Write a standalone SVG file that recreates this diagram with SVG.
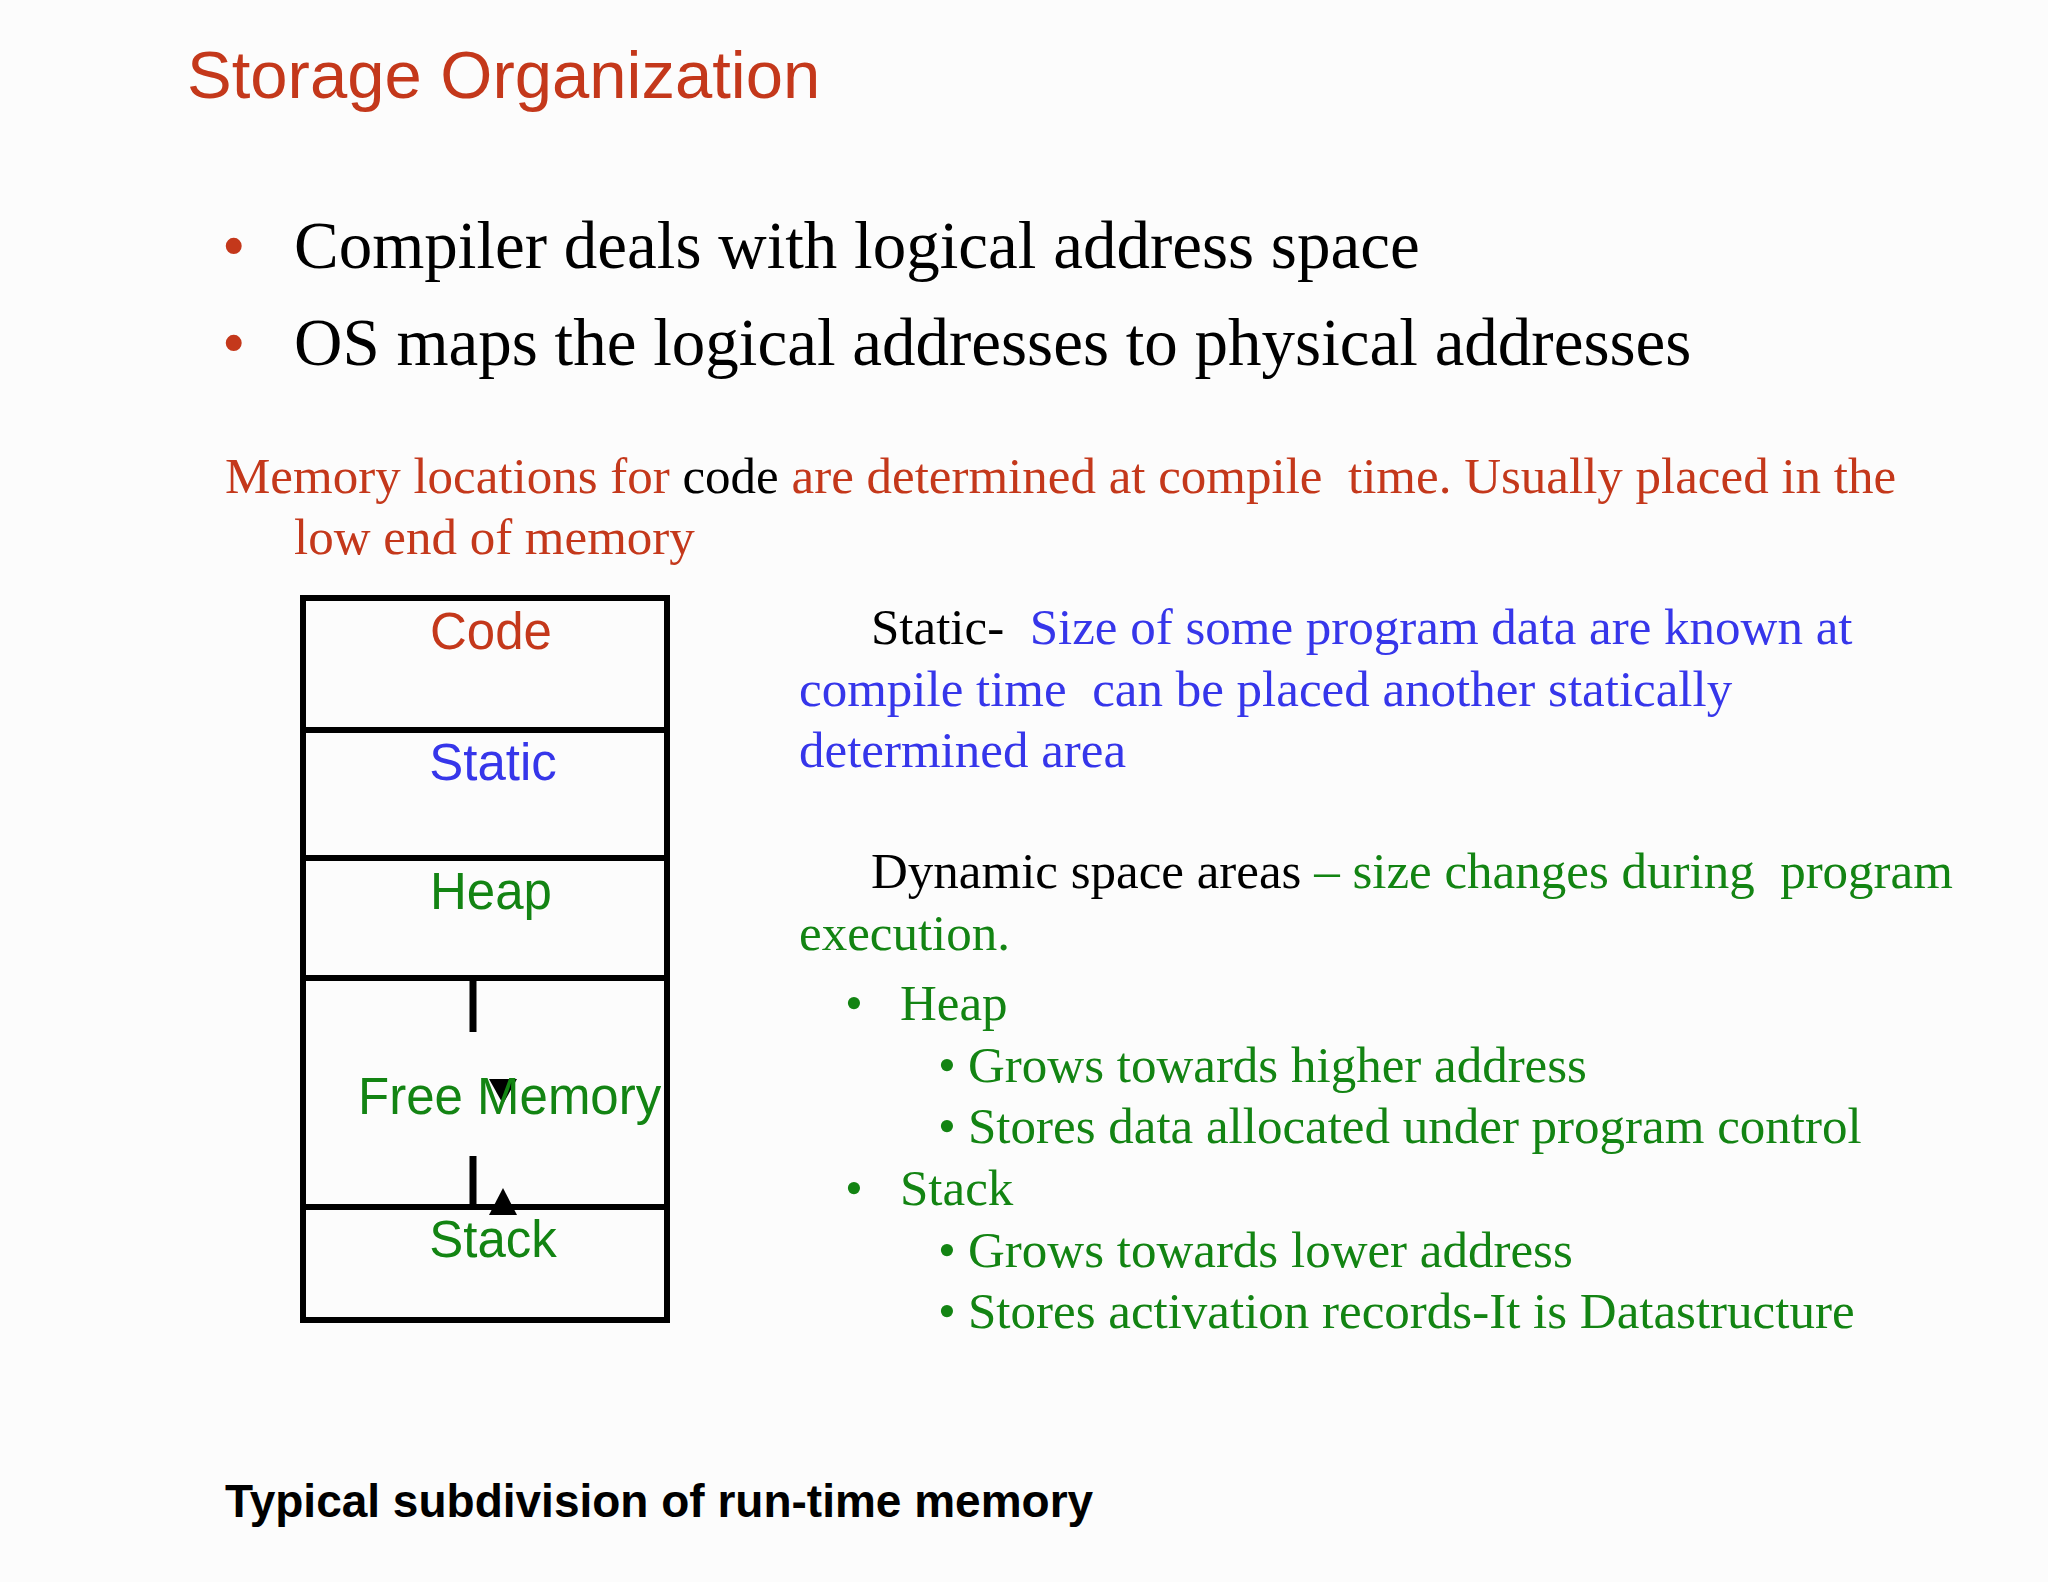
<svg xmlns="http://www.w3.org/2000/svg" width="2048" height="1582" viewBox="0 0 2048 1582">
<style>
.t{font-family:"Liberation Serif",serif;font-size:51px}
.big{font-size:67px}
.a{font-family:"Liberation Sans",sans-serif}
.r{fill:#c4381b}.b{fill:#3636ea}.g{fill:#138413}.k{fill:#000}
.box{fill:none;stroke:#000;stroke-width:6}
</style>
<rect width="2048" height="1582" fill="#fcfcfc"/>
<text x="187" y="98" class="a r" font-size="67">Storage Organization</text>
<text x="222" y="268" class="t big r">•</text><text x="294" y="268" class="t big k">Compiler deals with logical address space</text>
<text x="222" y="365" class="t big r">•</text><text x="294" y="365" class="t big k">OS maps the logical addresses to physical addresses</text>
<text x="225" y="493" class="t r">Memory locations for <tspan class="k">code</tspan> are determined at compile&#160; time. Usually placed in the</text>
<text x="294" y="554" class="t r">low end of memory</text>
<g id="memory">
<rect x="303" y="598" width="364" height="722" class="box"/>
<line x1="303" y1="730" x2="667" y2="730" class="box"/>
<line x1="303" y1="858" x2="667" y2="858" class="box"/>
<line x1="303" y1="978" x2="667" y2="978" class="box"/>
<line x1="303" y1="1207" x2="667" y2="1207" class="box"/>
<text x="491" y="649" text-anchor="middle" class="a r" font-size="51">Code</text>
<text x="493" y="780" text-anchor="middle" class="a b" font-size="51">Static</text>
<text x="491" y="909" text-anchor="middle" class="a g" font-size="51">Heap</text>
<text x="493" y="1257" text-anchor="middle" class="a g" font-size="51">Stack</text>
</g>
<g id="connectors" stroke="#000" stroke-width="7">
<line x1="473" y1="978" x2="473" y2="1032"/>
<line x1="473" y1="1156" x2="473" y2="1207"/>
<polygon points="489,1079 517,1079 503,1104" stroke="none" fill="#000"/>
<polygon points="489,1215 517,1215 503,1188" stroke="none" fill="#000"/>
</g>
<text x="358" y="1114" class="a g" font-size="51">Free Memory</text>
<text x="871" y="644" class="t k">Static-&#160; <tspan class="b">Size of some program data are known at</tspan></text>
<text x="799" y="706" class="t b">compile time&#160; can be placed another statically</text>
<text x="799" y="767" class="t b">determined area</text>
<text x="871" y="888" class="t k">Dynamic space areas <tspan class="g">– size changes during&#160; program</tspan></text>
<text x="799" y="950" class="t g">execution.</text>
<g class="t g">
<text x="845" y="1020">•</text><text x="900" y="1020">Heap</text>
<text x="938" y="1082">•</text><text x="968" y="1082">Grows towards higher address</text>
<text x="938" y="1143">•</text><text x="968" y="1143">Stores data allocated under program control</text>
<text x="845" y="1205">•</text><text x="900" y="1205">Stack</text>
<text x="938" y="1267">•</text><text x="968" y="1267">Grows towards lower address</text>
<text x="938" y="1328">•</text><text x="968" y="1328">Stores activation records-It is Datastructure</text>
</g>
<text x="225" y="1517" class="a k" font-weight="bold" font-size="46">Typical subdivision of run-time memory</text>
</svg>
